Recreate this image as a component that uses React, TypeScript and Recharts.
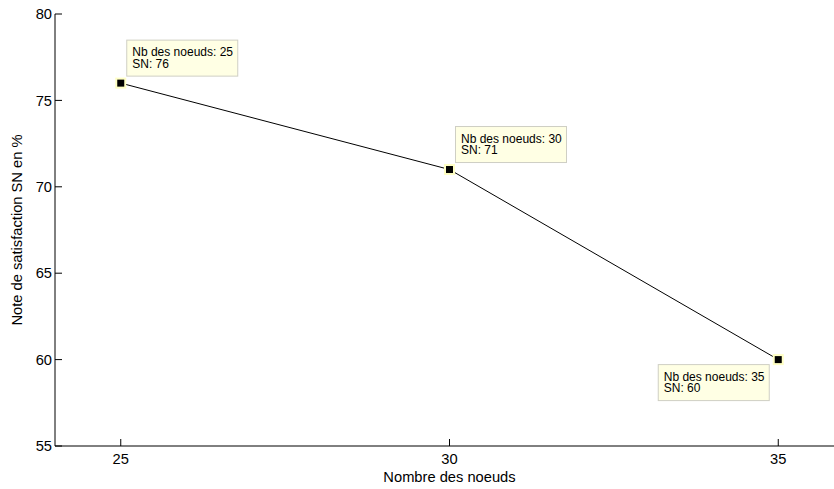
import { LineChart, Line, XAxis, YAxis, LabelList } from "recharts";

const nodes = [25, 30, 35];
const satisfaction = [76, 71, 60];
const xTicks = [25, 30, 35];
const yTicks = [55, 60, 65, 70, 75, 80];

const data = nodes.map((n, i) => ({ nodes: n, sn: satisfaction[i] }));

const FONT = "'Liberation Sans', Arial, Helvetica, sans-serif";

// tick marks point inward (negative tickSize), these only draw the numbers
const XTick = (props: any) => {
  const { x, y, payload } = props;
  return (
    <text x={x} y={y + 18} textAnchor="middle" fontSize={14.7} fontFamily={FONT} fill="#000">
      {payload.value}
    </text>
  );
};

const YTick = (props: any) => {
  const { x, y, payload } = props;
  return (
    <text x={x} y={y} dy="0.355em" textAnchor="end" fontSize={14.7} fontFamily={FONT} fill="#000">
      {payload.value}
    </text>
  );
};

const Marker = (props: any) => {
  const { cx, cy } = props;
  if (cx == null || cy == null) return null;
  return (
    <g>
      <rect x={cx - 5.5} y={cy - 5.5} width={11} height={11} fill="#ffffc4" />
      <rect x={cx - 3.5} y={cy - 3.5} width={7} height={7} fill="#000" />
    </g>
  );
};

const DataTip = (props: any) => {
  const { x, y, index } = props;
  if (x == null || y == null) return null;
  const w = 111;
  const h = 36;
  const last = index === data.length - 1;
  const left = last ? x - 9 - w : x + 6;
  const top = last ? y + 5 : y - 7 - h;
  return (
    <g>
      <rect x={left} y={top} width={w} height={h} fill="#ffffe4" stroke="#cfcfc4" strokeWidth={1} />
      <text x={left + 5.5} y={top + 16} fontSize={12} fontFamily={FONT} fill="#000">
        {`Nb des noeuds: ${data[index].nodes}`}
      </text>
      <text x={left + 5.5} y={top + 27.6} fontSize={12} fontFamily={FONT} fill="#000">
        {`SN: ${data[index].sn}`}
      </text>
    </g>
  );
};

export default function App() {
  return (
    <div
      style={{
        position: "fixed",
        left: 0,
        top: 0,
        width: 834,
        height: 489,
        overflow: "hidden",
        background: "#fff",
      }}
    >
      <LineChart
        width={850}
        height={489}
        data={data}
        margin={{ top: 14, right: 6, left: 0, bottom: 0 }}
      >
        <XAxis
          dataKey="nodes"
          type="number"
          domain={[24, 36]}
          ticks={xTicks}
          height={43}
          tickSize={-7}
          tickMargin={7}
          tickLine={{ stroke: "#000", strokeWidth: 1 }}
          axisLine={{ stroke: "#000", strokeWidth: 1 }}
          tick={<XTick />}
          label={{
            content: (p: any) => {
              const vb = p.viewBox;
              return (
                <text
                  x={vb.x + vb.width / 2}
                  y={vb.y + 36}
                  textAnchor="middle"
                  fontSize={14.7}
                  fontFamily={FONT}
                  fill="#000"
                >
                  Nombre des noeuds
                </text>
              );
            },
          }}
        />
        <YAxis
          type="number"
          domain={[55, 80]}
          ticks={yTicks}
          width={55}
          tickSize={-7}
          tickMargin={10}
          tickLine={{ stroke: "#000", strokeWidth: 1 }}
          axisLine={{ stroke: "#000", strokeWidth: 1 }}
          tick={<YTick />}
          label={{
            content: (p: any) => {
              const vb = p.viewBox;
              const cy = vb.y + vb.height / 2;
              return (
                <text
                  x={22}
                  y={cy}
                  transform={`rotate(-90, 22, ${cy})`}
                  textAnchor="middle"
                  fontSize={14.7}
                  fontFamily={FONT}
                  fill="#000"
                >
                  Note de satisfaction SN en %
                </text>
              );
            },
          }}
        />
        <Line
          dataKey="sn"
          stroke="#000"
          strokeWidth={1}
          dot={<Marker />}
          activeDot={false}
          isAnimationActive={false}
        >
          <LabelList dataKey="sn" content={<DataTip />} />
        </Line>
      </LineChart>
    </div>
  );
}
